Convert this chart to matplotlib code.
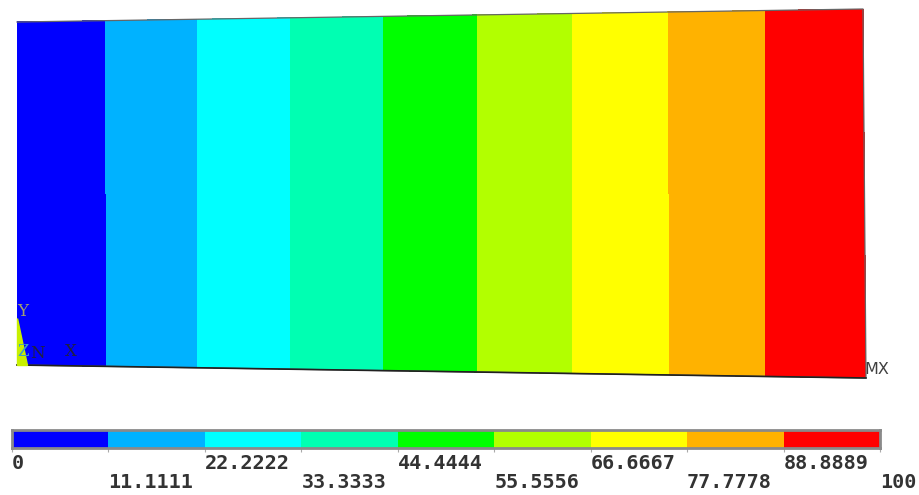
import matplotlib.pyplot as plt
import numpy as np

# nodal result, 9 equal bands from 0 to 100
levels = [0, 11.1111, 22.2222, 33.3333, 44.4444, 55.5556, 66.6667, 77.7778, 88.8889, 100]
level_labels = ['0', '11.1111', '22.2222', '33.3333', '44.4444',
                '55.5556', '66.6667', '77.7778', '88.8889', '100']
band_colors = ['#0000ff', '#00b2ff', '#00ffff', '#00ffb2', '#00ff00',
               '#b2ff00', '#ffff00', '#ffb200', '#ff0000']

# deformed plate: x-location of each contour value along top and bottom edges
top_x = [17, 105, 197, 290, 383, 477, 572, 668, 765, 863]
bot_x = [17, 107, 198, 291, 384, 478, 573, 670, 766, 866]
# plate corners (left/right y of the top and bottom edges)
top_y = [22, 9]
bot_y = [365, 378]

fig = plt.figure(figsize=(9.2, 4.95), dpi=100)
ax = fig.add_axes([0, 0, 1, 1])
ax.set_xlim(0, 920)
ax.set_ylim(495, 0)
ax.axis('off')

tx = np.array(top_x, float)
bx = np.array(bot_x, float)
ty = top_y[0] + (top_y[1] - top_y[0]) * (tx - tx[0]) / (tx[-1] - tx[0])
by = bot_y[0] + (bot_y[1] - bot_y[0]) * (bx - bx[0]) / (bx[-1] - bx[0])
X = np.vstack([tx, bx])
Y = np.vstack([ty, by])
Z = np.vstack([levels, levels])
ax.contourf(X, Y, Z, levels=levels, colors=band_colors, antialiased=False)

# outline
ax.plot([tx[0], tx[-1], bx[-1], bx[0]], [ty[0], ty[-1], by[-1], by[0]],
        color='#666666', lw=0.9)
ax.plot([bx[0], bx[-1]], [by[0], by[-1]], color='#202020', lw=1.2)

# global triad at the origin
ax.fill([17, 17, 27], [318, 365, 365], color='#c8f000', zorder=3)
lab = dict(fontsize=12, family='DejaVu Serif', va='center', ha='left')
ax.text(17, 311, 'Y', color='#a0a070', **lab)
ax.text(17, 352, 'Z', color='#40a0c0', **lab)
ax.text(30, 353, 'N', color='#202040', **lab)
ax.text(65, 351, 'X', color='#202040', **lab)
ax.text(864, 370, 'MX', color='#404040', fontsize=11.5, family='DejaVu Sans',
        va='center', ha='left')

# legend bar
cax = fig.add_axes([12 / 920, (495 - 448) / 495, 868 / 920, 18 / 495])
cax.barh(0, np.diff(levels), left=levels[:-1], height=1, color=band_colors,
         edgecolor='none')
cax.set_xlim(0, 100)
cax.set_ylim(-0.5, 0.5)
cax.set_yticks([])
for sp in cax.spines.values():
    sp.set_color('#8a8a8a')
    sp.set_linewidth(2)
cax.set_xticks(levels)
cax.set_xticklabels([lab if i % 2 == 0 else '\n' + lab
                     for i, lab in enumerate(level_labels)],
                    family='DejaVu Sans Mono', fontsize=14.5, color='#333333',
                    fontweight='bold', linespacing=1.0)
for t in cax.get_xticklabels():
    t.set_horizontalalignment('left')
cax.tick_params(axis='x', length=3, color='#aaaaaa', pad=1)

fig.savefig('out.png', dpi=100)
